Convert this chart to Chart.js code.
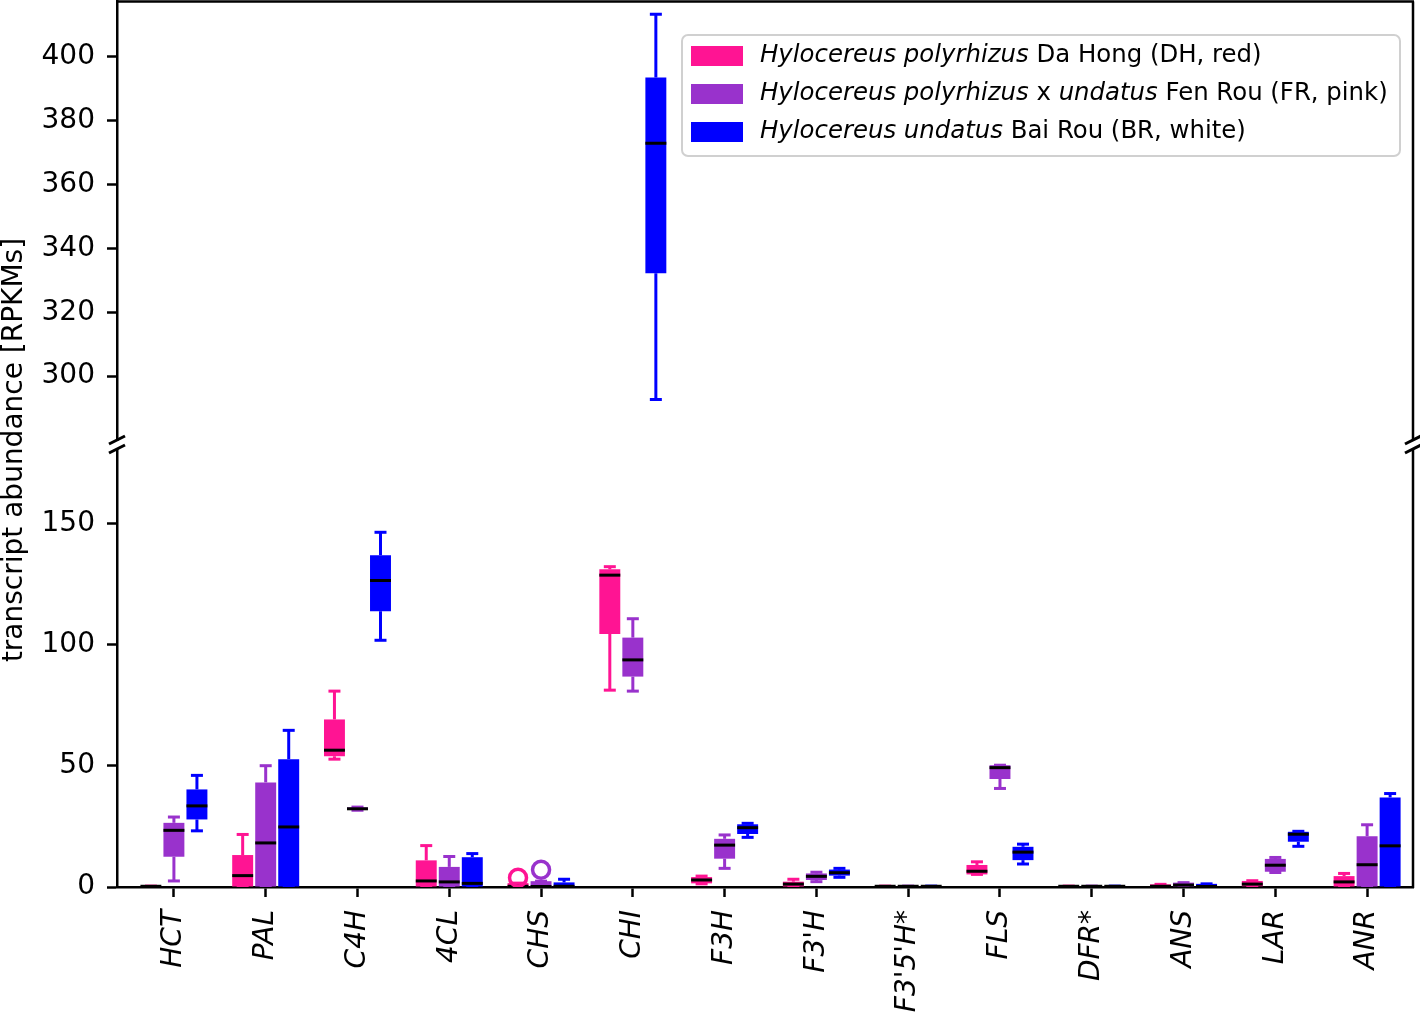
<!DOCTYPE html>
<html>
<head>
<meta charset="utf-8">
<script src="https://cdn.jsdelivr.net/npm/chart.js@4.4.0/dist/chart.umd.min.js"></script>
<style>
  html, body { margin: 0; padding: 0; background: #fff; }
  #wrap { position: relative; width: 1420px; height: 1021px; }
  #wrap canvas { position: absolute; left: 0; top: 0; }
</style>
</head>
<body>
<div id="wrap">
  <canvas id="lower" width="1420" height="1021"></canvas>
  <canvas id="upper" width="1420" height="1021"></canvas>
</div>
<script>
// gene names on the x axis
const categories = ["HCT", "PAL", "C4H", "4CL", "CHS", "CHI", "F3H", "F3'H", "F3'5'H*", "FLS", "DFR*", "ANS", "LAR", "ANR"];

// Da Hong (DH, red) - box plot statistics per gene
const dhLow  = [0.3, 0, 52.8, 0, 0, 81.3, 1.3, 0, 0.3, 5.2, 0.3, 0, 0.3, 0];
const dhQ1   = [0.3, 0, 54.0, 0, 0, 104.5, 1.5, 0, 0.3, 5.2, 0.3, 0, 0.3, 0];
const dhMed  = [0.3, 4.7, 56.5, 2.5, 0.3, 128.8, 2.9, 1.2, 0.3, 6.5, 0.3, 0.3, 1.2, 2.1];
const dhQ3   = [0.3, 13.2, 69.2, 11.0, 1.6, 131.2, 4.1, 2.2, 0.3, 9.1, 0.3, 1.1, 2.5, 4.5];
const dhHigh = [0.3, 21.7, 80.9, 17.1, 1.6, 132.3, 4.5, 3.2, 0.3, 10.4, 0.3, 1.1, 2.6, 5.6];
const dhOut  = [null, null, null, null, 3.8, null, null, null, null, null, null, null, null, null];

// Fen Rou (FR, pink)
const frLow  = [2.5, 0, 31.7, 0, 0, 80.9, 7.7, 2.2, 0.3, 40.7, 0.3, 0, 6.0, 0];
const frQ1   = [12.5, 0, 31.8, 0, 0, 86.9, 11.7, 2.9, 0.3, 44.6, 0.3, 0, 6.3, 0];
const frMed  = [23.4, 18.2, 32.3, 2.1, 0.2, 93.8, 17.3, 4.4, 0.3, 49.3, 0.3, 0.8, 9.0, 9.2];
const frQ3   = [26.5, 43.2, 32.9, 8.3, 2.4, 103.0, 19.9, 5.6, 0.3, 50.3, 0.3, 1.8, 11.6, 21.0];
const frHigh = [28.9, 50.1, 33.0, 12.6, 2.4, 110.8, 21.5, 6.1, 0.3, 50.3, 0.3, 1.8, 12.2, 25.7];
const frOut  = [null, null, null, null, 7.1, null, null, null, null, null, null, null, null, null];

// Bai Rou (BR, white)
const brLow  = [23.2, 0, 101.9, 0, 0, 292.7, 20.5, 4.0, 0.3, 9.5, 0.3, 0, 16.8, 0];
const brQ1   = [27.9, 0, 113.9, 0, 0, 332.2, 21.9, 4.7, 0.3, 11.1, 0.3, 0, 18.7, 0];
const brMed  = [33.5, 24.8, 126.6, 1.5, 0.3, 372.9, 24.5, 5.9, 0.3, 14.4, 0.3, 0.2, 21.8, 17.0];
const brQ3   = [40.3, 52.8, 137.0, 12.3, 1.9, 393.5, 25.9, 7.2, 0.3, 16.6, 0.3, 1.3, 22.8, 37.0];
const brHigh = [46.1, 64.7, 146.5, 13.8, 3.2, 413.3, 26.3, 7.7, 0.3, 17.7, 0.3, 1.3, 23.0, 38.6];
const brOut  = [null, null, null, null, null, null, null, null, null, null, null, null, null, null];

// tick labels of the two halves of the broken y axis
const upperTicks = [300, 320, 340, 360, 380, 400];
const lowerTicks = [0, 50, 100, 150];

const yTitle = "transcript abundance [RPKMs]";

// legend text: [text, italic]
const legendLabels = [
  [["Hylocereus polyrhizus", true], [" Da Hong (DH, red)", false]],
  [["Hylocereus polyrhizus", true], [" x ", false], ["undatus", true], [" Fen Rou (FR, pink)", false]],
  [["Hylocereus undatus", true], [" Bai Rou (BR, white)", false]]
];

const series = [
  { color: "#ff1493", low: dhLow, q1: dhQ1, med: dhMed, q3: dhQ3, high: dhHigh, out: dhOut },
  { color: "#9932cc", low: frLow, q1: frQ1, med: frMed, q3: frQ3, high: frHigh, out: frOut },
  { color: "#0000ff", low: brLow, q1: brQ1, med: brMed, q3: brQ3, high: brHigh, out: brOut }
];

const FONT = "DejaVu Sans";

function makeDatasets() {
  return series.map((s, k) => ({
    label: legendLabels[k].map(p => p[0]).join(""),
    data: categories.map((c, i) => ({ x: i, y: [s.q1[i], s.q3[i]] })),
    backgroundColor: s.color,
    borderWidth: 0,
    categoryPercentage: 0.7525,
    barPercentage: 0.91
  }));
}

function xScale(show) {
  return {
    type: "linear",
    display: show,
    offset: false,
    min: -0.62,
    max: 13.5,
    z: 1,
    afterBuildTicks: s => { s.ticks = categories.map((c, i) => ({ value: i })); },
    afterFit: s => {
      if (show) s.height = 134;
      s.paddingLeft = 0;
      s.paddingRight = 0;
    },
    grid: { offset: false, drawOnChartArea: false, drawTicks: true, tickLength: 10, tickWidth: 2.5, tickColor: "#000" },
    border: { display: true, color: "#000", width: 2.5 },
    ticks: {
      autoSkip: false,
      minRotation: 90,
      maxRotation: 90,
      padding: 13,
      color: "#000",
      font: { family: FONT, size: 28, style: "italic" },
      callback: (v, idx) => categories[idx]
    }
  };
}

function yScale(min, max, tickValues) {
  return {
    type: "linear",
    min: min,
    max: max,
    z: 1,
    afterBuildTicks: s => { s.ticks = tickValues.map(v => ({ value: v })); },
    afterFit: s => { s.width = 117; s.paddingTop = 0; s.paddingBottom = 0; },
    grid: { drawOnChartArea: false, drawTicks: true, tickLength: 10, tickWidth: 2.5, tickColor: "#000" },
    border: { display: true, color: "#000", width: 2.5 },
    ticks: { padding: 12, color: "#000", font: { family: FONT, size: 28 } }
  };
}

function strokeLine(ctx, x1, y1, x2, y2) {
  ctx.beginPath();
  ctx.moveTo(x1, y1);
  ctx.lineTo(x2, y2);
  ctx.stroke();
}

// whiskers, caps, medians and fliers, positioned from the bar elements and the y scale
function drawBoxParts(chart, stage) {
  const { ctx, chartArea } = chart;
  const yS = chart.scales.y;
  ctx.save();
  ctx.beginPath();
  ctx.rect(chartArea.left, chartArea.top, chartArea.right - chartArea.left, chartArea.bottom - chartArea.top);
  ctx.clip();
  series.forEach((s, k) => {
    const meta = chart.getDatasetMeta(k);
    meta.data.forEach((bar, i) => {
      const x = bar.x;
      const w = bar.width;
      if (stage === "back") {
        ctx.strokeStyle = s.color;
        ctx.lineWidth = 3;
        ctx.lineCap = "butt";
        const yLo = yS.getPixelForValue(s.low[i]);
        const yHi = yS.getPixelForValue(s.high[i]);
        strokeLine(ctx, x, yS.getPixelForValue(s.q1[i]), x, yLo);
        strokeLine(ctx, x, yS.getPixelForValue(s.q3[i]), x, yHi);
        strokeLine(ctx, x - 6, yLo, x + 6, yLo);
        strokeLine(ctx, x - 6, yHi, x + 6, yHi);
      } else {
        ctx.strokeStyle = "#000";
        ctx.lineWidth = 3;
        const yM = yS.getPixelForValue(s.med[i]);
        strokeLine(ctx, x - w / 2, yM, x + w / 2, yM);
        if (s.out[i] !== null) {
          ctx.strokeStyle = s.color;
          ctx.lineWidth = 3.5;
          ctx.beginPath();
          ctx.arc(x, yS.getPixelForValue(s.out[i]), 8.5, 0, Math.PI * 2);
          ctx.stroke();
        }
      }
    });
  });
  ctx.restore();
}

const boxParts = {
  id: "boxParts",
  beforeDatasetsDraw(chart) { drawBoxParts(chart, "back"); },
  afterDatasetsDraw(chart) { drawBoxParts(chart, "front"); }
};

function breakMark(ctx, x, y) {
  ctx.save();
  ctx.strokeStyle = "#000";
  ctx.lineWidth = 3;
  strokeLine(ctx, x - 8, y + 4, x + 8, y - 4);
  ctx.restore();
}

// spines that Chart.js does not draw itself, plus the break marks
const frameUpper = {
  id: "frameUpper",
  afterDraw(chart) {
    const { ctx, chartArea: a } = chart;
    ctx.save();
    ctx.strokeStyle = "#000";
    ctx.lineWidth = 2.5;
    strokeLine(ctx, a.left - 1, a.top, a.right + 1, a.top);
    strokeLine(ctx, a.right, a.top, a.right, a.bottom);
    ctx.restore();
    breakMark(ctx, a.left, a.bottom);
    breakMark(ctx, a.right, a.bottom);
  }
};

const frameLower = {
  id: "frameLower",
  afterDraw(chart) {
    const { ctx, chartArea: a } = chart;
    ctx.save();
    ctx.strokeStyle = "#000";
    ctx.lineWidth = 2.5;
    strokeLine(ctx, a.right, a.top, a.right, a.bottom + 1);
    ctx.restore();
    breakMark(ctx, a.left, a.top);
    breakMark(ctx, a.right, a.top);
    // shared y axis title, centred on the break
    ctx.save();
    ctx.translate(15, 450);
    ctx.rotate(-Math.PI / 2);
    ctx.font = "28px '" + FONT + "'";
    ctx.fillStyle = "#000";
    ctx.textAlign = "center";
    ctx.textBaseline = "middle";
    ctx.fillText(yTitle, 0, 0);
    ctx.restore();
  }
};

const mixedLegend = {
  id: "mixedLegend",
  afterDraw(chart) {
    const ctx = chart.ctx;
    const bx = 682, by = 35, bw = 718, bh = 121;
    ctx.save();
    ctx.fillStyle = "rgba(255,255,255,0.8)";
    ctx.strokeStyle = "#d0d0d0";
    ctx.lineWidth = 2;
    ctx.beginPath();
    ctx.roundRect(bx, by, bw, bh, 6);
    ctx.fill();
    ctx.stroke();
    legendLabels.forEach((parts, k) => {
      const cy = 56 + k * 38;
      ctx.fillStyle = series[k].color;
      ctx.fillRect(691, cy - 10, 52, 20);
      let tx = 760;
      ctx.fillStyle = "#000";
      ctx.textBaseline = "middle";
      ctx.textAlign = "left";
      parts.forEach(([text, italic]) => {
        ctx.font = (italic ? "italic " : "") + "24.4px '" + FONT + "'";
        ctx.fillText(text, tx, cy);
        tx += ctx.measureText(text).width;
      });
    });
    ctx.restore();
  }
};

const common = {
  responsive: false,
  animation: false,
  devicePixelRatio: 1,
  plugins: { legend: { display: false }, tooltip: { enabled: false } }
};

new Chart(document.getElementById("lower"), {
  type: "bar",
  data: { datasets: makeDatasets() },
  options: Object.assign({}, common, {
    layout: { padding: { left: 0, right: 7, top: 449, bottom: 0 } },
    scales: { x: xScale(true), y: yScale(0, 180.9, lowerTicks) }
  }),
  plugins: [boxParts, frameLower]
});

new Chart(document.getElementById("upper"), {
  type: "bar",
  data: { datasets: makeDatasets() },
  options: Object.assign({}, common, {
    layout: { padding: { left: 0, right: 7, top: 1.5, bottom: 581 } },
    scales: { x: xScale(false), y: yScale(280, 417.3, upperTicks) }
  }),
  plugins: [boxParts, frameUpper, mixedLegend]
});
</script>
</body>
</html>
